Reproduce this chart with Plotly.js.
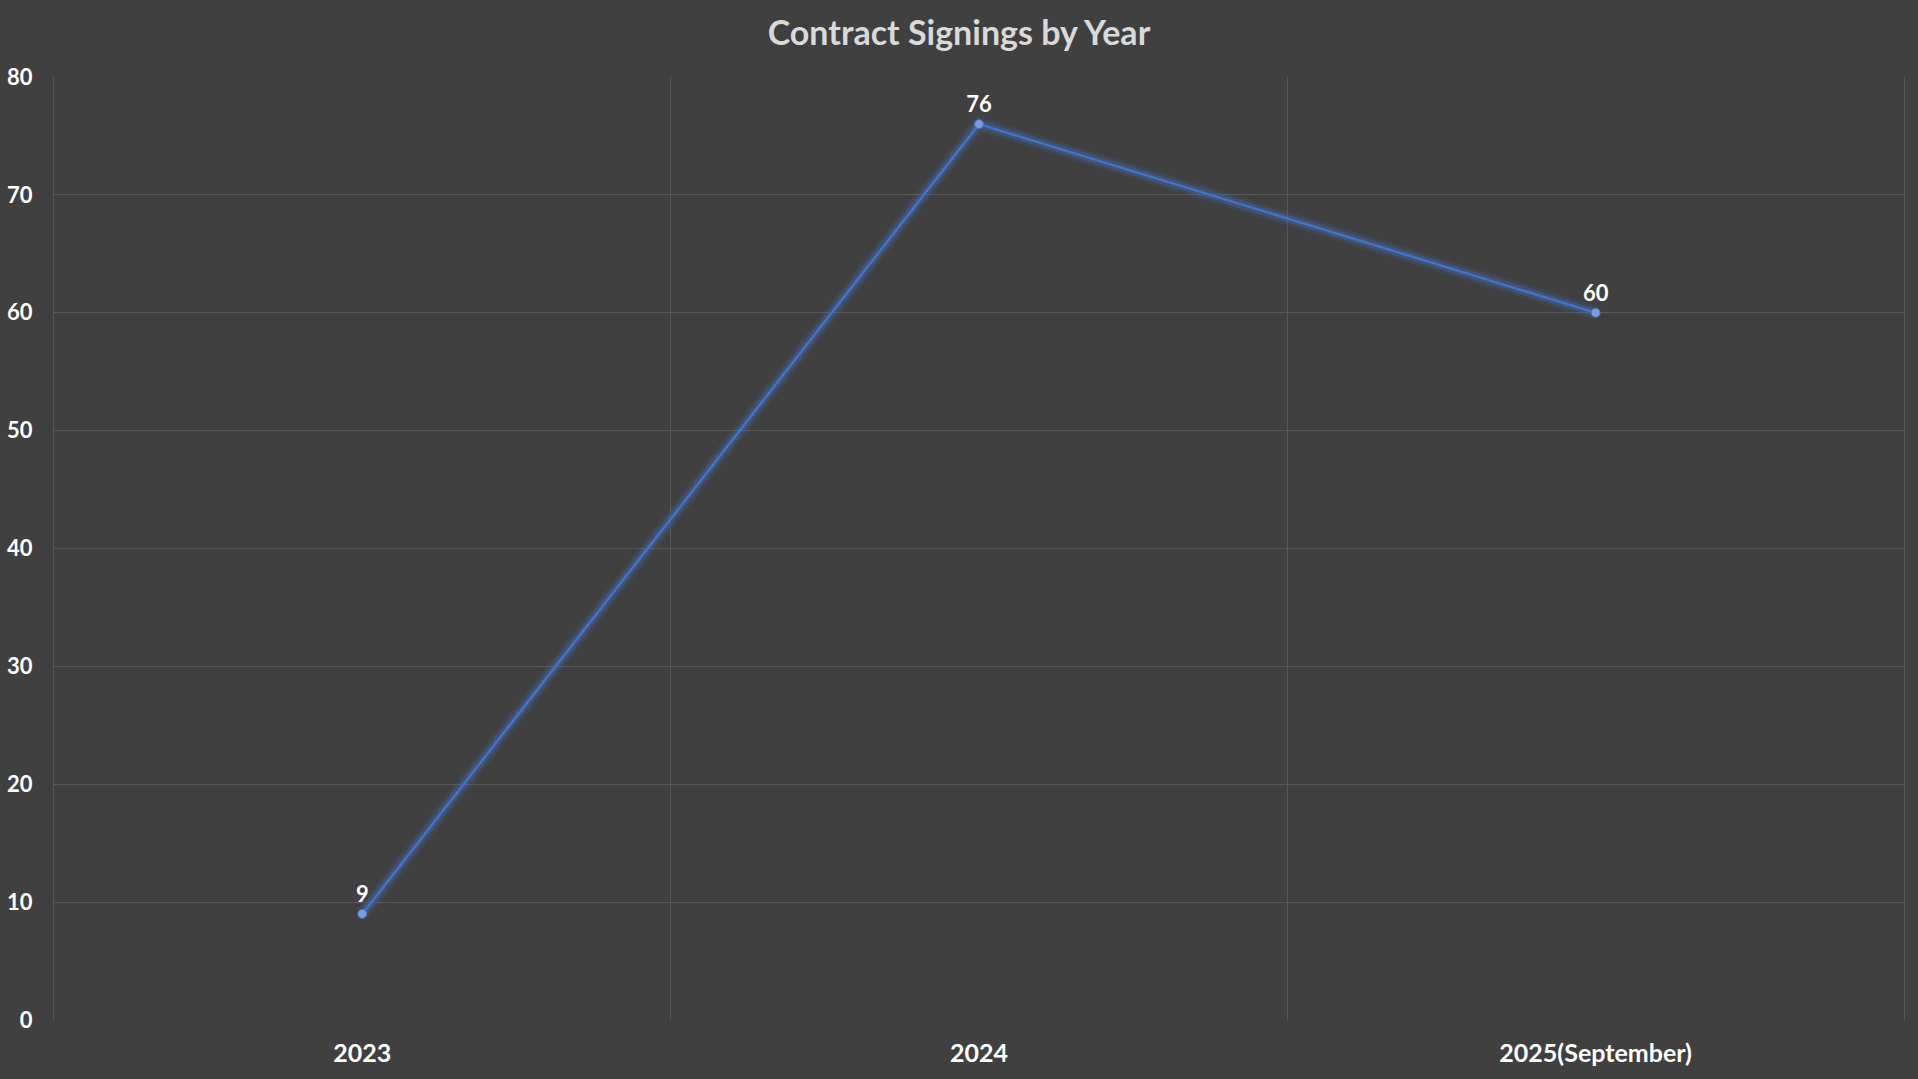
<!DOCTYPE html>
<html>
<head>
<meta charset="utf-8">
<script src="https://cdn.plot.ly/plotly-3.0.1.min.js"></script>
<style>
  html, body { margin: 0; padding: 0; background: #404040; }
  #chart { width: 1918px; height: 1079px; }
</style>
</head>
<body>
<div id="chart"></div>
<script>
const categories = ["2023", "2024", "2025(September)"];
const signings = [9, 76, 60];
const chartTitle = "Contract Signings by Year";

const FONT = "Lato, 'Open Sans', 'Liberation Sans', sans-serif";
const lineColor = "#4472C4";

const glowOuter = {
  x: categories, y: signings, type: "scatter", mode: "lines",
  line: { color: "rgba(68,114,196,0.15)", width: 14 },
  hoverinfo: "skip", showlegend: false
};
const glow = {
  x: categories, y: signings, type: "scatter", mode: "lines",
  line: { color: "rgba(68,114,196,0.3)", width: 8 },
  hoverinfo: "skip", showlegend: false
};
const main = {
  x: categories, y: signings, type: "scatter", mode: "lines+markers+text",
  line: { color: lineColor, width: 2.5 },
  marker: { size: 9, color: "#7C9CE0", line: { color: lineColor, width: 1 } },
  text: signings.map(String), textposition: "top center",
  textfont: { family: FONT, size: 22, color: "#FFFFFF", weight: "bold" },
  showlegend: false
};

const layout = {
  width: 1918, height: 1079,
  paper_bgcolor: "#404040", plot_bgcolor: "#404040",
  margin: { l: 54, r: 14, t: 77, b: 59 },
  title: {
    text: "<b>" + chartTitle + "</b>",
    font: { family: FONT, size: 34, color: "#D9D9D9" },
    x: 0.5, xanchor: "center", y: 0.969, yanchor: "middle"
  },
  xaxis: {
    type: "category", tickson: "boundaries", range: [-0.5, 2.5],
    showgrid: true, gridcolor: "#575757", gridwidth: 1,
    showline: false, zeroline: false, ticks: "",
    tickfont: { family: FONT, size: 25, color: "#FFFFFF", weight: "bold" },
    ticklabelstandoff: 16
  },
  yaxis: {
    range: [0, 80], dtick: 10, tick0: 0,
    showgrid: true, gridcolor: "#575757", gridwidth: 1,
    zeroline: true, zerolinecolor: "#404040",
    showline: true, linecolor: "#575757", linewidth: 1, mirror: true,
    ticks: "",
    tickfont: { family: FONT, size: 22, color: "#FFFFFF", weight: "bold" },
    ticklabelstandoff: 16
  },
  hovermode: false
};

Plotly.newPlot("chart", [glowOuter, glow, main], layout, { displayModeBar: false, staticPlot: true });
</script>
</body>
</html>
